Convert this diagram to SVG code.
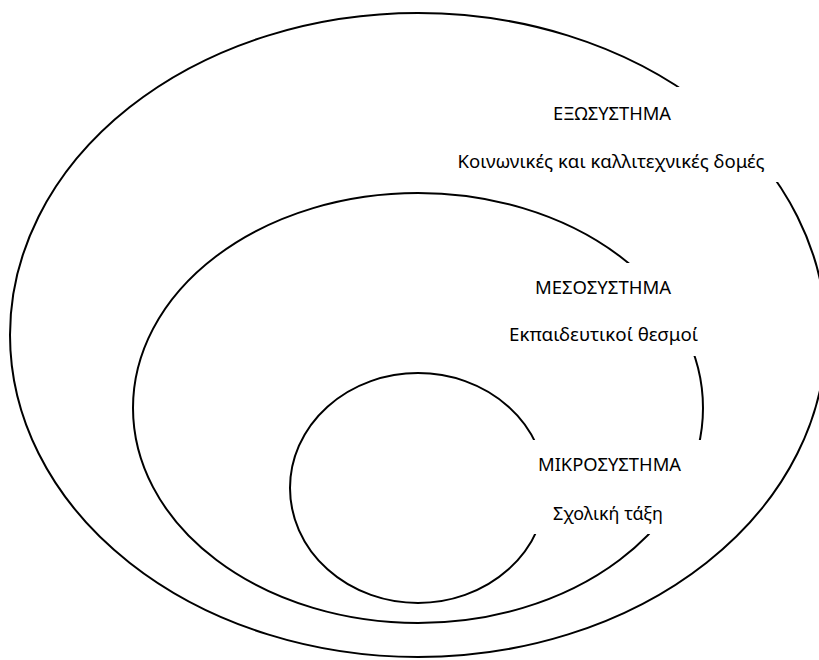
<svg xmlns="http://www.w3.org/2000/svg" width="819" height="660" viewBox="0 0 819 660">
<style>
.ring{fill:none;stroke:#000;stroke-width:2}
.box{fill:#fff;stroke:none}
.lbl{font-family:"Noto Sans","Open Sans","DejaVu Sans",sans-serif;font-size:18px;fill:#000;text-anchor:middle}
</style>
<rect x="0" y="0" width="819" height="660" fill="#fff"/>
<g id="exosystem">
<ellipse class="ring" cx="418" cy="335" rx="408" ry="322"/>
<rect class="box" x="445" y="87" width="345" height="95"/>
<text class="lbl" x="612" y="120" textLength="118" lengthAdjust="spacingAndGlyphs">ΕΞΩΣΥΣΤΗΜΑ</text>
<text class="lbl" x="611" y="168" textLength="307" lengthAdjust="spacingAndGlyphs">Κοινωνικές και καλλιτεχνικές δομές</text>
</g>
<g id="mesosystem">
<ellipse class="ring" cx="418" cy="408" rx="285" ry="215"/>
<rect class="box" x="495" y="263" width="215" height="93"/>
<text class="lbl" x="603" y="294" textLength="136" lengthAdjust="spacingAndGlyphs">ΜΕΣΟΣΥΣΤΗΜΑ</text>
<text class="lbl" x="603.5" y="341" textLength="189" lengthAdjust="spacingAndGlyphs">Εκπαιδευτικοί θεσμοί</text>
</g>
<g id="microsystem">
<ellipse class="ring" cx="418" cy="488" rx="128" ry="115"/>
<rect class="box" x="520" y="440" width="200" height="94"/>
<text class="lbl" x="609.5" y="471" textLength="143" lengthAdjust="spacingAndGlyphs">ΜΙΚΡΟΣΥΣΤΗΜΑ</text>
<text class="lbl" x="608" y="520" textLength="110" lengthAdjust="spacingAndGlyphs">Σχολική τάξη</text>
</g>
<g id="connectors"></g>
</svg>
